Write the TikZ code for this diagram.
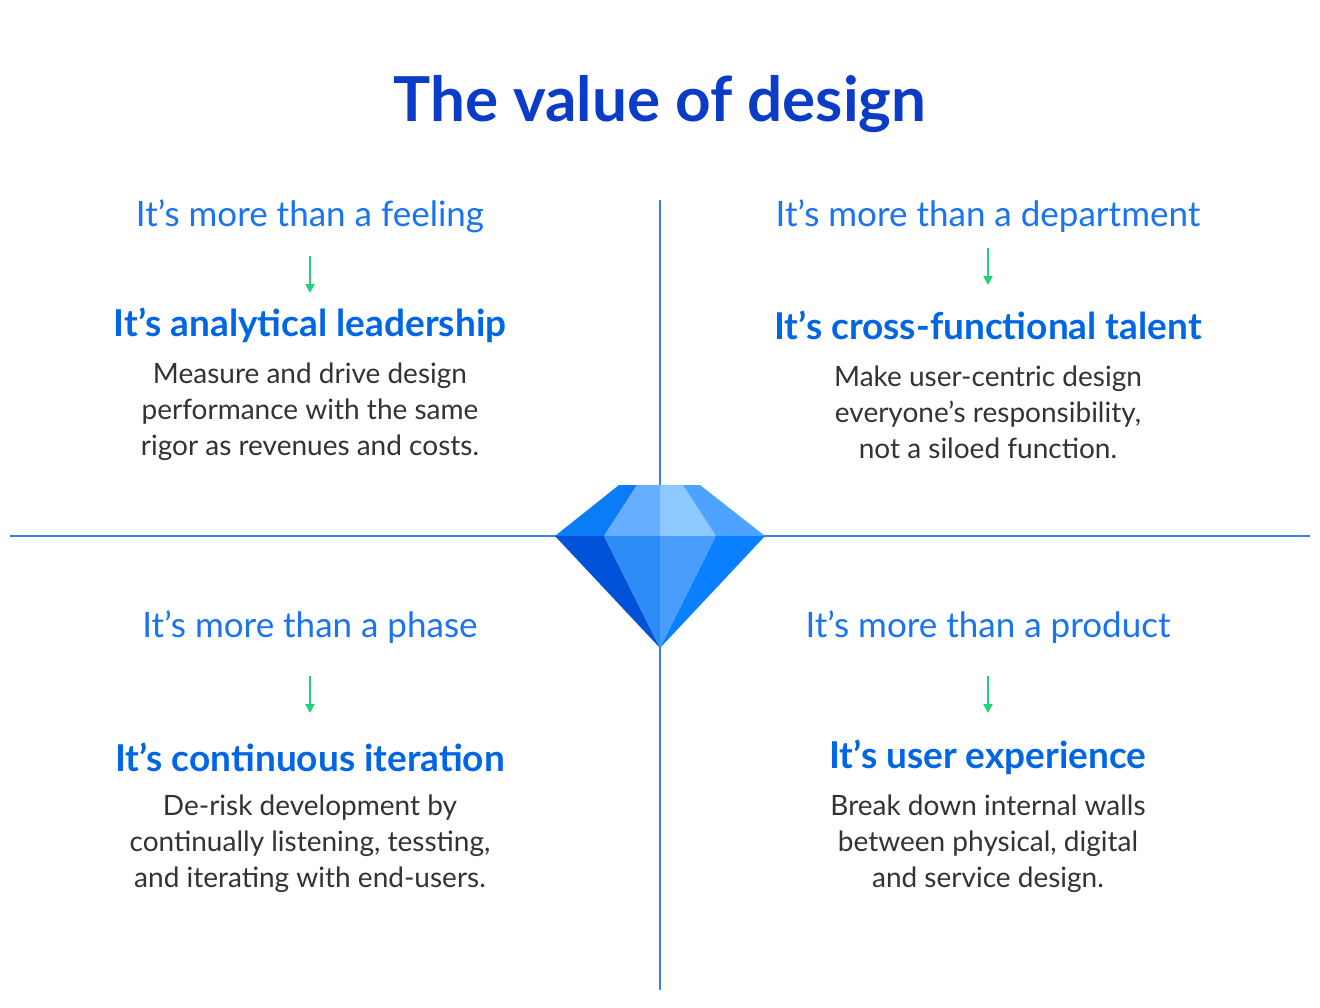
\documentclass[tikz,border=0pt]{standalone}
\usepackage{fontspec}
\setmainfont{Lato}
\usetikzlibrary{arrows.meta}
\definecolor{ttl}{HTML}{0A3CC8}
\definecolor{sub}{HTML}{1A73F0}
\definecolor{hd}{HTML}{0066E6}
\definecolor{bd}{HTML}{333333}
\definecolor{gr}{HTML}{1ED47A}
\definecolor{ln}{HTML}{3A80E0}
\begin{document}
\begin{tikzpicture}[x=1pt,y=-1pt,
 subt/.style={text=sub,font=\fontsize{35}{40}\selectfont},
 head/.style={text=hd,font=\fontsize{37}{42}\selectfont\bfseries},
 body/.style={text=bd,align=center,font=\fontsize{28}{36}\selectfont},
 garrow/.style={draw=gr,line width=2pt,-{Triangle[length=9pt,width=9pt]}}]
\useasboundingbox (0,0) rectangle (1320,1007);
\fill[white] (0,0) rectangle (1320,1007);
\draw[ln,line width=1.3pt] (660,200) -- (660,990);
\draw[ln,line width=1.3pt] (10,536) -- (1310,536);
\node[text=ttl,font=\fontsize{62}{70}\selectfont\bfseries] (title) at (660,104) {The value of design};
% diamond
\fill[fill={rgb,255:red,10;green,124;blue,245}] (619,485)--(637,485)--(604,536)--(555,536)--cycle;
\fill[fill={rgb,255:red,102;green,174;blue,255}] (637,485)--(660,485)--(660,536)--(604,536)--cycle;
\fill[fill={rgb,255:red,141;green,200;blue,255}] (660,485)--(683,485)--(716,536)--(660,536)--cycle;
\fill[fill={rgb,255:red,77;green,163;blue,255}] (683,485)--(700,485)--(765,536)--(716,536)--cycle;
\fill[fill={rgb,255:red,0;green,82;blue,217}] (555,536)--(604,536)--(660,648)--cycle;
\fill[fill={rgb,255:red,43;green,140;blue,248}] (604,536)--(660,536)--(660,648)--cycle;
\fill[fill={rgb,255:red,74;green,158;blue,251}] (660,536)--(716,536)--(660,648)--cycle;
\fill[fill={rgb,255:red,10;green,128;blue,255}] (716,536)--(765,536)--(660,648)--cycle;
% quadrants
\node[subt] (s1) at (310,216) {It’s more than a feeling};
\node[subt] (s2) at (988,216) {It’s more than a department};
\node[subt] (s3) at (310,627) {It’s more than a phase};
\node[subt] (s4) at (988,627) {It’s more than a product};
\node[head] (h1) at (310,325) {It’s analytical leadership};
\node[head] (h2) at (988,325) {It’s cross-functional talent};
\node[head] (h3) at (310,757) {It’s continuous iteration};
\node[head] (h4) at (988,757) {It’s user experience};
\node[body] (b1) at (310,412) {Measure and drive design\\performance with the same\\rigor as revenues and costs.};
\node[body] (b2) at (988,412) {Make user-centric design\\everyone’s responsibility,\\not a siloed function.};
\node[body] (b3) at (310,844) {De-risk development by\\continually listening, tessting,\\and iterating with end-users.};
\node[body] (b4) at (988,844) {Break down internal walls\\between physical, digital\\and service design.};
\coordinate (a1s) at (310,256); \coordinate (a1e) at (310,293);
\coordinate (a2s) at (988,248); \coordinate (a2e) at (988,285);
\coordinate (a3s) at (310,676); \coordinate (a3e) at (310,713);
\coordinate (a4s) at (988,676); \coordinate (a4e) at (988,713);
\draw[garrow] (a1s)--(a1e);
\draw[garrow] (a2s)--(a2e);
\draw[garrow] (a3s)--(a3e);
\draw[garrow] (a4s)--(a4e);
\end{tikzpicture}
\end{document}
